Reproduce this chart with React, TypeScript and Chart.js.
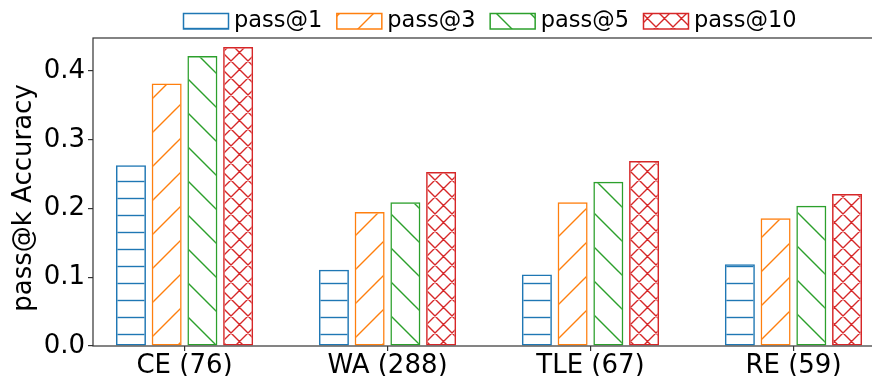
import React, { useEffect, useRef } from "react";
import { Chart, registerables } from "chart.js";

Chart.register(...registerables);

const categories = ["CE (76)", "WA (288)", "TLE (67)", "RE (59)"];
const seriesNames = ["pass@1", "pass@3", "pass@5", "pass@10"];
const pass1 = [0.263, 0.111, 0.104, 0.119];
const pass3 = [0.382, 0.195, 0.209, 0.186];
const pass5 = [0.422, 0.209, 0.239, 0.204];
const pass10 = [0.435, 0.253, 0.269, 0.221];
const yTicks = [0, 0.1, 0.2, 0.3, 0.4];
const yTickLabels = ["0.0", "0.1", "0.2", "0.3", "0.4"];
const yTitle = "pass@k Accuracy";

const colors = ["#1f77b4", "#ff7f0e", "#2ca02c", "#d62728"];
const hatches = ["-", "/", "\\", "x"];
const FONT = "DejaVu Sans";

function makePattern(ctx: CanvasRenderingContext2D, kind: string, color: string) {
  const P = kind === "/" || kind === "\\" ? 34 : 17;
  const c = document.createElement("canvas");
  c.width = P;
  c.height = P;
  const g = c.getContext("2d")!;
  g.strokeStyle = color;
  g.lineWidth = 1.4;
  g.beginPath();
  if (kind === "-") {
    g.moveTo(0, 11.5);
    g.lineTo(P, 11.5);
  }
  if (kind === "/" || kind === "x") {
    const off = kind === "/" ? 13 : 3;
    for (const k of [-2, -1, 0, 1, 2]) {
      const cc = off + k * P;
      g.moveTo(cc + P, -P);
      g.lineTo(cc - 2 * P, 2 * P);
    }
  }
  if (kind === "\\" || kind === "x") {
    const off = kind === "\\" ? 7 : 0;
    for (const k of [-2, -1, 0, 1, 2]) {
      const cc = off + k * P;
      g.moveTo(cc - P, -P);
      g.lineTo(cc + 2 * P, 2 * P);
    }
  }
  g.stroke();
  return ctx.createPattern(c, "repeat")!;
}

export default function App() {
  const ref = useRef<HTMLCanvasElement>(null);

  useEffect(() => {
    const canvas = ref.current!;
    const ctx = canvas.getContext("2d")!;
    const patterns = hatches.map((h, i) => makePattern(ctx, h, colors[i]));
    const series = [pass1, pass3, pass5, pass10];

    const framePlugin = {
      id: "frame",
      afterDatasetsDraw(chart: any) {
        const { left, top, right, bottom } = chart.chartArea;
        const c = chart.ctx;
        c.save();
        c.strokeStyle = "#333";
        c.lineWidth = 1.2;
        c.strokeRect(left, top, right - left, bottom - top);
        c.restore();
      },
    };

    const titlePlugin = {
      id: "yTitle",
      afterDraw(chart: any) {
        const c = chart.ctx;
        c.save();
        c.font = `26px "${FONT}"`;
        c.fillStyle = "#000";
        c.textAlign = "center";
        c.textBaseline = "middle";
        c.translate(24, 198);
        c.rotate(-Math.PI / 2);
        c.fillText(yTitle, 0, 0);
        c.restore();
      },
    };

    const legendPlugin = {
      id: "hatchLegend",
      afterDraw(chart: any) {
        const c = chart.ctx;
        c.save();
        c.font = `22.5px "${FONT}"`;
        c.textBaseline = "middle";
        c.textAlign = "left";
        let x = 183.5;
        const boxW = 45;
        const boxTop = 13.5;
        const boxH = 15.5;
        seriesNames.forEach((name, i) => {
          c.fillStyle = patterns[i];
          c.fillRect(x, boxTop, boxW, boxH);
          c.strokeStyle = colors[i];
          c.lineWidth = 1.5;
          c.strokeRect(x, boxTop, boxW, boxH);
          c.fillStyle = "#000";
          const tx = x + boxW + 5.5;
          c.fillText(name, tx, boxTop + boxH / 2);
          x = tx + c.measureText(name).width + 14.5;
        });
        c.restore();
      },
    };

    const chart = new Chart(canvas, {
      type: "bar",
      data: {
        datasets: series.map((vals, i) => ({
          label: seriesNames[i],
          data: vals.map((v, j) => ({ x: j, y: v })),
          backgroundColor: patterns[i],
          borderColor: colors[i],
          borderWidth: 1.5,
          borderSkipped: false,
          categoryPercentage: 0.704,
          barPercentage: 0.84,
        })),
      },
      options: {
        responsive: false,
        animation: false,
        events: [],
        layout: { padding: { top: 38, right: 15, left: 0, bottom: 0 } },
        plugins: { legend: { display: false }, tooltip: { enabled: false } },
        scales: {
          x: {
            type: "linear",
            offset: false,
            min: -0.451,
            max: 3.451,
            afterBuildTicks: (s: any) => {
              s.ticks = categories.map((_, i) => ({ value: i }));
            },
            afterFit: (s: any) => {
              s.height = 30;
            },
            ticks: {
              callback: (v: any) => categories[Math.round(Number(v))],
              font: { family: FONT, size: 26 },
              color: "#000",
              padding: 0,
              maxRotation: 0,
              autoSkip: false,
            },
            grid: { offset: false, drawOnChartArea: false, tickLength: 5, color: "#333", lineWidth: 1.2 },
            border: { display: false },
          },
          y: {
            type: "linear",
            min: 0,
            max: 0.448,
            afterBuildTicks: (s: any) => {
              s.ticks = yTicks.map((v) => ({ value: v }));
            },
            afterFit: (s: any) => {
              s.width = 93;
            },
            ticks: {
              callback: (v: any) => yTickLabels[yTicks.findIndex((t) => Math.abs(t - Number(v)) < 1e-9)],
              font: { family: FONT, size: 26 },
              color: "#000",
              padding: 3,
            },
            grid: { drawOnChartArea: false, tickLength: 5, color: "#333", lineWidth: 1.2 },
            border: { display: false },
          },
        },
      },
      plugins: [framePlugin, legendPlugin, titlePlugin],
    } as any);

    return () => chart.destroy();
  }, []);

  return (
    <div style={{ position: "fixed", left: 0, top: 0, width: 872, height: 376, overflow: "hidden", background: "#fff" }}>
      <canvas ref={ref} width={900} height={376} style={{ width: 900, height: 376, display: "block" }} />
    </div>
  );
}
